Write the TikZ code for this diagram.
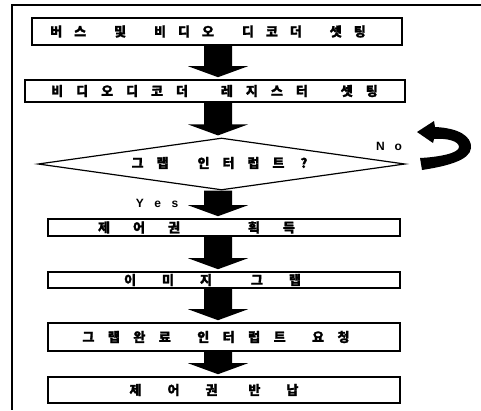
\documentclass[tikz,border=0pt]{standalone}
\usepackage{fontspec}
\setmainfont{Liberation Sans}
\newfontfamily\kr{Noto Sans CJK KR}[FakeBold=1.5]
\usetikzlibrary{calc,shapes.geometric}
\makeatletter
\def\sptext#1#2#3{\def\sp@g{#1}\def\sp@w{#2}\sp@loop#3\relax\unskip}
\def\sp@loop#1{\ifx\relax#1\else\ifx/#1\hspace{\sp@w}\else#1\hspace{\sp@g}\fi\expandafter\sp@loop\fi}
\makeatother
\newcommand\blockarrow[2]{%
  \fill let \p1=(#1), \p2=(#2), \p3=(axis) in
  (\x3-14pt,\y1) -- (\x3+14pt,\y1) -- (\x3+14pt,\y2+13pt) -- (\x3+30pt,\y2+13pt)
  -- (\x3,\y2+2pt) -- (\x3-30pt,\y2+13pt) -- (\x3-14pt,\y2+13pt) -- cycle;}
\tikzset{
  boxnode/.style={draw, line width=1.6pt, inner sep=0pt, minimum width=352pt},
  lbl/.style={inner sep=0pt, font={\kr\bfseries\fontsize{13pt}{15pt}\selectfont}},
  latin/.style={inner sep=0pt, font={\bfseries\fontsize{12pt}{14pt}\selectfont}},
}
\begin{document}
\begin{tikzpicture}[x=1pt,y=-1pt]
\useasboundingbox (0,0) rectangle (481,410);
% frame
\draw[line width=1.5pt] (481,5) -- (12,5) -- (12,410);
\coordinate (axis) at (218,0);
% boxes
\node[boxnode, minimum width=370pt, minimum height=27pt] (b1) at (217,31.5) {};
\node[boxnode, minimum width=380pt, minimum height=22pt] (b2) at (215,91) {};
\node[draw, line width=1.2pt, diamond, inner sep=0pt, minimum width=367pt, minimum height=52pt] (d) at (221.5,164) {};
\node[boxnode, minimum height=17pt] (b3) at (224,227.5) {};
\node[boxnode, minimum height=16pt] (b4) at (224,280) {};
\node[boxnode, minimum height=28pt] (b5) at (224,337) {};
\node[boxnode, minimum height=26pt] (b6) at (224,390) {};
% labels
\node[lbl] (t1) at (208,31.5) {\sptext{12pt}{16pt}{버스/및/비디오/디코더/셋팅}};
\node[lbl] (t2) at (214.5,91) {\sptext{13pt}{20pt}{비디오디코더/레지스터/셋팅}};
\node[lbl] (td) at (219.5,163) {\sptext{13pt}{16pt}{그랩/인터럽트}\hspace{16pt}?};
\node[lbl] (t3) at (196.5,227.5) {\sptext{23pt}{45pt}{제어권/획득}};
\node[lbl] (t4) at (212.5,280) {\sptext{26pt}{13pt}{이미지/그랩}};
\node[lbl] (t5) at (216,337) {\sptext{13.5pt}{13pt}{그랩완료/인터럽트/요청}};
\node[lbl] (t6) at (214,390) {\sptext{26pt}{5pt}{제어권/반납}};
\node[latin] (yes) at (157,203) {Y\hspace{10.5pt}e\hspace{10.5pt}s};
\node[latin] (no) at (389,146) {N\hspace{10pt}o};
% block arrows
\blockarrow{b1.south}{b2.north}
\blockarrow{b2.south}{d.north}
\blockarrow{d.south}{b3.north}
\blockarrow{b3.south}{b4.north}
\blockarrow{b4.south}{b5.north}
\blockarrow{b5.south}{b6.north}
% No loop arrow
\fill (417,132) -- (434,121) -- (435,127) .. controls (458,128) and (472,136) .. (471,148)
  .. controls (470,160) and (448,166) .. (422,170) -- (420,158)
  .. controls (440,157) and (459,153) .. (459,147)
  .. controls (459,141) and (447,138) .. (434,139) -- (433,143) -- cycle;
\end{tikzpicture}
\end{document}
